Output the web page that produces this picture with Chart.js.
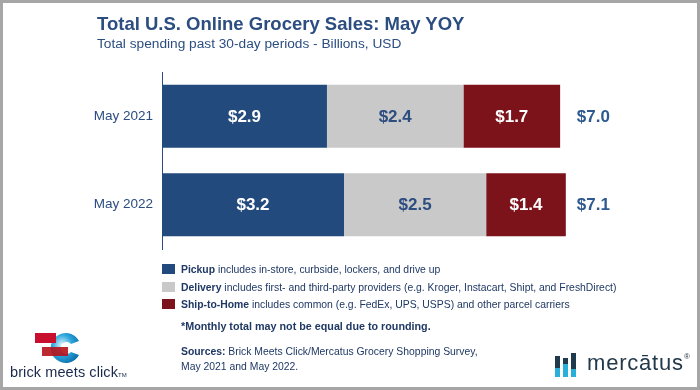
<!DOCTYPE html>
<html>
<head>
<meta charset="utf-8">
<script src="https://cdn.jsdelivr.net/npm/chart.js@4/dist/chart.umd.min.js"></script>
<style>
  html, body { margin: 0; padding: 0; background: #fff; }
  #wrap { position: relative; width: 700px; height: 390px; overflow: hidden;
          font-family: "Liberation Sans", Arial, sans-serif; }
  #frame { position: absolute; left: 0; top: 0; width: 694px; height: 384px;
           border: 3px solid #a6a6a6; pointer-events: none; }
  #chart { position: absolute; left: 0; top: 0; }
  .title { position: absolute; left: 97px; top: 13px; font-size: 18.5px; font-weight: bold; color: #2b4d80; }
  .subtitle { position: absolute; left: 97px; top: 36px; font-size: 13.7px; color: #2b4d80; }
  .legend { position: absolute; left: 162px; top: 263px; font-size: 10.4px; color: #1f3864; }
  .legend div { height: 17.5px; line-height: 14px; white-space: nowrap; }
  .legend span.box { display: inline-block; width: 13px; height: 10px; margin-right: 6px; vertical-align: -1px; }
  .note { position: absolute; left: 181px; top: 320px; font-size: 10.75px; font-weight: bold; color: #1f3864; }
  .src { position: absolute; left: 181px; top: 344px; font-size: 10.4px; line-height: 15px; color: #1f3864; }
  .bmc { position: absolute; left: 10px; top: 364px; font-size: 14.5px; color: #1a2a4a; letter-spacing: 0.1px; }
  .merc { position: absolute; left: 587px; top: 350px; font-size: 22px; color: #22394a; letter-spacing: 0.8px; }
  .merc sup { font-size: 8px; vertical-align: 11px; letter-spacing: 0; }
</style>
</head>
<body>
<div id="wrap">
  <canvas id="chart" width="700" height="390"></canvas>
  <div class="title">Total U.S. Online Grocery Sales: May YOY</div>
  <div class="subtitle">Total spending past 30-day periods - Billions, USD</div>
  <div class="legend" id="legend"></div>
  <div class="note">*Monthly total may not be equal due to rounding.</div>
  <div class="src"><b>Sources:</b> Brick Meets Click/Mercatus Grocery Shopping Survey,<br>May 2021 and May 2022.</div>
  <svg style="position:absolute;left:0;top:325px" width="140" height="40">
    <defs>
      <radialGradient id="cg" cx="0.4" cy="0.4" r="0.7">
        <stop offset="0" stop-color="#e6f4fb"/>
        <stop offset="0.5" stop-color="#2aa6dc"/>
        <stop offset="1" stop-color="#0a6aa8"/>
      </radialGradient>
    </defs>
    <path d="M 79 16 A 15 15 0 1 0 79 30 L 71 27 A 6 6 0 1 1 71 19 Z" fill="url(#cg)"/>
    <rect x="35" y="8" width="21" height="10" fill="#c8102e"/>
    <rect x="42" y="22" width="26" height="9" fill="#b5121b" opacity="0.9"/>
  </svg>
  <div class="bmc">brick meets click<span style="font-size:6px">TM</span></div>
  <svg style="position:absolute;left:553px;top:352px" width="28" height="28">
    <rect x="2" y="4" width="5" height="12" fill="#1f3a4d"/>
    <rect x="2" y="16" width="5" height="9" fill="#2ab0d8"/>
    <rect x="10" y="6" width="5" height="6" fill="#1f3a4d"/>
    <rect x="10" y="12" width="5" height="13" fill="#2ab0d8"/>
    <rect x="18" y="1" width="5" height="16" fill="#1f3a4d"/>
    <rect x="18" y="17" width="5" height="8" fill="#2ab0d8"/>
  </svg>
  <div class="merc">mercātus<sup>®</sup></div>
  <div id="frame"></div>
</div>
<script>
const periods = ["May 2021", "May 2022"];
const pickup = [2.9, 3.2];
const delivery = [2.4, 2.5];
const shipToHome = [1.7, 1.4];
const totals = [7.0, 7.1];

const seriesNames = ["Pickup", "Delivery", "Ship-to-Home"];
const seriesNotes = [
  "includes in-store, curbside, lockers, and drive up",
  "includes first- and third-party providers (e.g. Kroger, Instacart, Shipt, and FreshDirect)",
  "includes common (e.g. FedEx, UPS, USPS) and other parcel carriers"
];
const seriesColors = ["#234a7c", "#c9c9c9", "#7c131b"];
const labelColors = ["#ffffff", "#2b4d80", "#ffffff"];

// legend with bold name + description
const legendEl = document.getElementById("legend");
seriesNames.forEach((name, i) => {
  const row = document.createElement("div");
  row.innerHTML = '<span class="box" style="background:' + seriesColors[i] + '"></span><b>' +
    name + '</b> ' + seriesNotes[i];
  legendEl.appendChild(row);
});

const valueLabels = {
  id: "valueLabels",
  afterDatasetsDraw(chart) {
    const ctx = chart.ctx;
    ctx.save();
    ctx.font = "bold 17px 'Liberation Sans', Arial, sans-serif";
    ctx.textAlign = "center";
    ctx.textBaseline = "middle";
    chart.data.datasets.forEach((ds, di) => {
      chart.getDatasetMeta(di).data.forEach((bar, i) => {
        ctx.fillStyle = labelColors[di];
        ctx.fillText("$" + ds.data[i].toFixed(1), (bar.x + bar.base) / 2, bar.y + 1);
      });
    });
    const xs = chart.scales.x;
    const tx = xs.getPixelForValue(Math.max(...totals)) + 11;
    ctx.textAlign = "left";
    ctx.fillStyle = "#2f5a91";
    const meta = chart.getDatasetMeta(0);
    totals.forEach((t, i) => {
      ctx.fillText("$" + t.toFixed(1), tx, meta.data[i].y + 1);
    });
    ctx.restore();
  }
};

new Chart(document.getElementById("chart"), {
  type: "bar",
  data: {
    labels: periods,
    datasets: [
      { label: seriesNames[0], data: pickup, backgroundColor: seriesColors[0] },
      { label: seriesNames[1], data: delivery, backgroundColor: seriesColors[1] },
      { label: seriesNames[2], data: shipToHome, backgroundColor: seriesColors[2] }
    ]
  },
  options: {
    indexAxis: "y",
    responsive: false,
    animation: false,
    layout: { padding: { left: 0, right: 83, top: 72, bottom: 141 } },
    datasets: { bar: { categoryPercentage: 1, barPercentage: 0.712 } },
    plugins: { legend: { display: false }, tooltip: { enabled: false } },
    scales: {
      x: { stacked: true, display: false, min: 0, max: 8 },
      y: {
        stacked: true,
        afterFit(scale) { scale.width = 162; },
        grid: { display: false, drawTicks: false },
        border: { display: true, color: "#2b4d80", width: 1 },
        ticks: { color: "#2b4d80", padding: 9, font: { family: "'Liberation Sans', Arial, sans-serif", size: 13.5 } }
      }
    }
  },
  plugins: [valueLabels]
});
</script>
</body>
</html>
